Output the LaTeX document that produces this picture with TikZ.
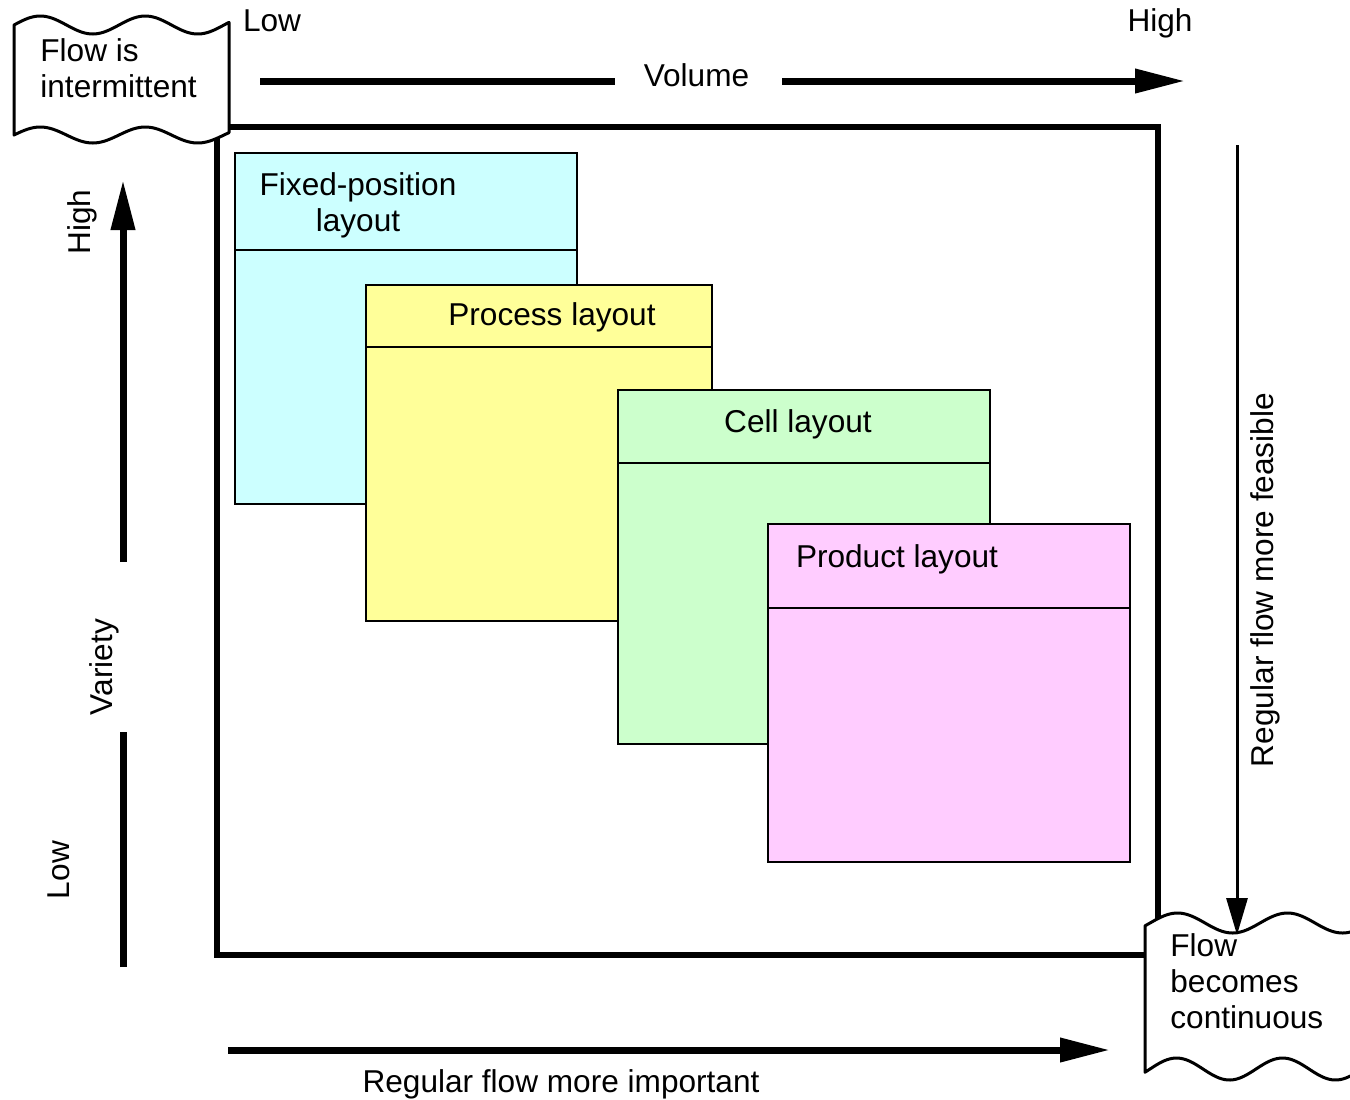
\documentclass[tikz,border=0pt]{standalone}
\usepackage{fontspec}
\setmainfont{Liberation Sans}
\usetikzlibrary{arrows.meta}
\definecolor{cfix}{HTML}{CCFFFF}
\definecolor{cproc}{HTML}{FFFF99}
\definecolor{ccell}{HTML}{CCFFCC}
\definecolor{cprod}{HTML}{FFCCFF}
\begin{document}
\begin{tikzpicture}[x=0.5pt,y=-0.5pt,
  font=\fontsize{15.8}{18}\selectfont,
  txt/.style={inner sep=0pt},
  lbox/.style={draw=black, line width=0.8pt, anchor=north west, inner sep=0pt},
  divider/.style={line width=0.8pt},
  frame/.style={line width=2.6pt},
  thickline/.style={line width=3.5pt},
  bigarrow/.style={line width=3.5pt, -{Triangle[length=25pt,width=11.5pt]}},
  thinarrow/.style={line width=1.5pt, -{Triangle[length=18.5pt,width=10.5pt]}},
  wavebox/.style={draw=black, fill=white, line width=1.5pt, line join=round}]
\useasboundingbox (0,0) rectangle (1350,1099);
% main frame
\draw[frame] (217,127) rectangle (1158,955);
% layout boxes
\node[lbox, fill=cfix, minimum width=171pt, minimum height=175.5pt] (fix) at (234,152) {};
\draw[divider] (fix.west |- 0,250) -- (fix.east |- 0,250);
\node[txt, align=center] (fixt) at (358,205) {Fixed-position\\layout};
\node[lbox, fill=cproc, minimum width=173pt, minimum height=168pt] (proc) at (365,284) {};
\draw[divider] (proc.west |- 0,347) -- (proc.east |- 0,347);
\node[txt, anchor=base] (proct) at (552,325) {Process layout};
\node[lbox, fill=ccell, minimum width=186pt, minimum height=177pt] (cell) at (617,389) {};
\draw[divider] (cell.west |- 0,463) -- (cell.east |- 0,463);
\node[txt, anchor=base] (cellt) at (798,432) {Cell layout};
\node[lbox, fill=cprod, minimum width=181pt, minimum height=169pt] (prod) at (767,523) {};
\draw[divider] (prod.west |- 0,608) -- (prod.east |- 0,608);
\node[txt, anchor=base] (prodt) at (897,567) {Product layout};
% wavy boxes
\draw[wavebox] plot[domain=14:229, samples=80] (\x, {25-9*sin(3.42857*(\x-14))})
  -- plot[domain=229:14, samples=80] (\x, {135-8*sin(3.42857*(\x-14))}) -- cycle;
\node[txt, align=left, anchor=west] (fi) at (40,68) {Flow is\\intermittent};
\draw[wavebox] plot[domain=1145:1362, samples=80] (\x, {923-10*sin(3.27273*(\x-1150))})
  -- plot[domain=1362:1145, samples=80] (\x, {1069-11*sin(3.39623*(\x-1150))}) -- cycle;
\node[txt, align=left, anchor=west] (fc) at (1170,981) {Flow\\becomes\\continuous};
% top volume axis
\node[txt, anchor=base] (lowt) at (272,31) {Low};
\node[txt, anchor=base] (hight) at (1160,31) {High};
\node[txt, anchor=base] (vol) at (696.5,86) {Volume};
\coordinate (v1) at (260,81);
\coordinate (v2) at (615,81);
\coordinate (v3) at (782,81);
\coordinate (v4) at (1185,81);
\draw[thickline] (v1) -- (v2);
\draw[bigarrow] (v3) -- (v4);
% left variety axis
\node[txt, anchor=base, rotate=90] (hv) at (90,222) {High};
\node[txt, anchor=base, rotate=90] (lv) at (69,870) {Low};
\node[txt, anchor=base, rotate=90] (var) at (112,667) {Variety};
\coordinate (a1) at (123,967);
\coordinate (a2) at (123,732);
\coordinate (a3) at (123,562);
\coordinate (a4) at (123,180);
\draw[thickline] (a1) -- (a2);
\draw[bigarrow] (a3) -- (a4);
% right arrow
\coordinate (r1) at (1237,145);
\coordinate (r2) at (1237,935);
\draw[thinarrow] (r1) -- (r2);
\node[txt, anchor=base, rotate=90] (feas) at (1273,580) {Regular flow more feasible};
% bottom arrow
\coordinate (b1) at (228,1050);
\coordinate (b2) at (1110,1050);
\draw[bigarrow] (b1) -- (b2);
\node[txt, anchor=base] (imp) at (561,1092) {Regular flow more important};
\end{tikzpicture}
\end{document}
